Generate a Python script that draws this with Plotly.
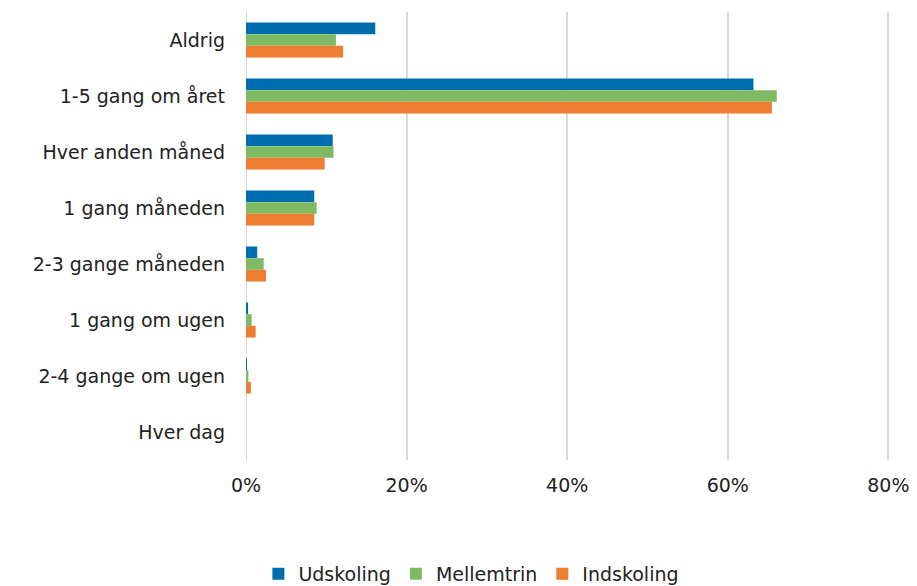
import plotly.graph_objects as go

categories = ["Aldrig", "1-5 gang om året", "Hver anden måned", "1 gang måneden",
              "2-3 gange måneden", "1 gang om ugen", "2-4 gange om ugen", "Hver dag"]
udskoling = [16.1, 63.2, 10.8, 8.5, 1.4, 0.25, 0.1, 0.0]
mellemtrin = [11.2, 66.1, 10.9, 8.8, 2.2, 0.7, 0.3, 0.0]
indskoling = [12.1, 65.5, 9.8, 8.5, 2.5, 1.2, 0.6, 0.0]
x_ticks = [0, 20, 40, 60, 80]
x_tick_labels = ["0%", "20%", "40%", "60%", "80%"]

series = [("Udskoling", udskoling, "#006EAF"),
          ("Mellemtrin", mellemtrin, "#7FBA62"),
          ("Indskoling", indskoling, "#ED7D31")]

fig = go.Figure()
for name, vals, color in series:
    fig.add_trace(go.Bar(y=categories, x=vals, name=name, orientation="h",
                         marker=dict(color=color, line=dict(width=0))))

font = "DejaVu Sans, Verdana, sans-serif"
fig.update_layout(
    width=917, height=586,
    margin=dict(l=246, r=27, t=12, b=126, autoexpand=False),
    barmode="group", bargap=0.375, bargroupgap=0,
    plot_bgcolor="white", paper_bgcolor="white",
    font=dict(family=font, size=19, color="#222222"),
    showlegend=True,
    legend=dict(orientation="h", xref="paper", yref="paper",
                x=0.35, xanchor="center", y=-0.254, yanchor="middle",
                font=dict(size=19, color="#222222"), itemwidth=30,
                traceorder="normal"),
    xaxis=dict(range=[0, 80.2], tickvals=x_ticks, ticktext=x_tick_labels,
               showgrid=True, gridcolor="#D9D9D9", gridwidth=2,
               zeroline=False, showline=False, ticks="", automargin=False,
               ticklabelstandoff=12, tickfont=dict(size=19)),
    yaxis=dict(autorange="reversed", showgrid=False, zeroline=False,
               showline=False, ticks="", ticklabelstandoff=20, automargin=False,
               tickfont=dict(size=19)),
)
fig.add_shape(type="line", xref="x", yref="paper", x0=0, x1=0, y0=0, y1=1,
              line=dict(color="#D9D9D9", width=2), layer="below")
fig.write_html("out.html", config={"displayModeBar": False},
               post_script="document.body.style.margin='0px';document.body.style.overflow='hidden';")
